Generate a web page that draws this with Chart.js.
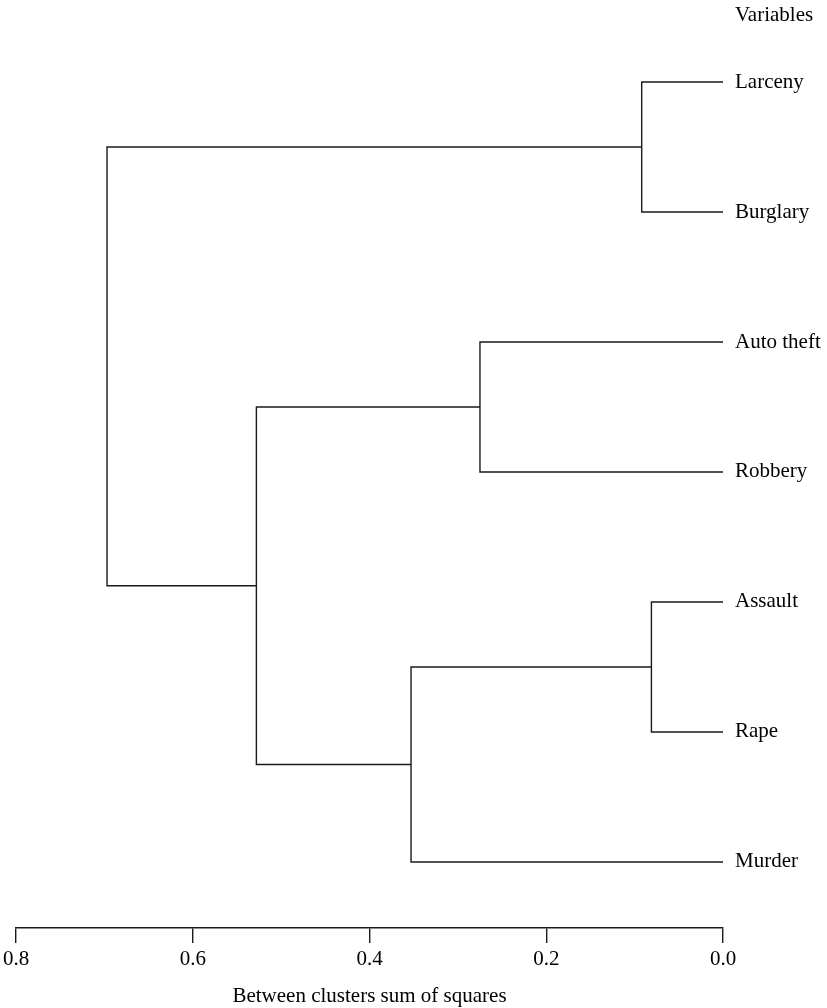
<!DOCTYPE html>
<html>
<head>
<meta charset="utf-8">
<script src="https://cdn.jsdelivr.net/npm/chart.js@4.4.1/dist/chart.umd.min.js"></script>
<style>
  html, body { margin: 0; padding: 0; background: #ffffff; }
  #wrap { width: 827px; height: 1008px; position: relative; }
</style>
</head>
<body>
<div id="wrap"><canvas id="c" width="827" height="1008"></canvas></div>
<script>
// Leaves, top to bottom
const leafNames = ['Larceny', 'Burglary', 'Auto theft', 'Robbery', 'Assault', 'Rape', 'Murder'];
// hclust-style merge table (negative = leaf index+1, positive = earlier merge step)
const mergeA = [-5, -1, -3, 1, 3, 2];
const mergeB = [-6, -2, -4, -7, 4, 5];
const mergeHeight = [0.081, 0.092, 0.275, 0.353, 0.528, 0.697];
// Axis ticks
const xTicks = [0.0, 0.2, 0.4, 0.6, 0.8];
const headerLabel = 'Variables';
const headerPos = -0.515;
const xTitle = 'Between clusters sum of squares';

// Build link polylines from merge table
const nodeY = [];
const nodeH = [];
function childInfo(ref) {
  if (ref < 0) return { y: -ref - 1, h: 0 };
  return { y: nodeY[ref - 1], h: nodeH[ref - 1] };
}
const datasets = [];
for (let i = 0; i < mergeA.length; i++) {
  const a = childInfo(mergeA[i]);
  const b = childInfo(mergeB[i]);
  const h = mergeHeight[i];
  nodeY.push((a.y + b.y) / 2);
  nodeH.push(h);
  datasets.push({
    data: [{ x: a.h, y: a.y }, { x: h, y: a.y }, { x: h, y: b.y }, { x: b.h, y: b.y }],
    showLine: true,
    borderColor: '#1a1a1a',
    borderWidth: 1.4,
    pointRadius: 0,
    tension: 0,
    fill: false
  });
}

Chart.defaults.font.family = "'Liberation Serif', 'Times New Roman', serif";
Chart.defaults.font.size = 21;
Chart.defaults.color = '#000';

new Chart(document.getElementById('c'), {
  type: 'scatter',
  data: { datasets },
  options: {
    responsive: false,
    animation: false,
    layout: { padding: { left: 16, top: 4, right: 0, bottom: 0 } },
    plugins: { legend: { display: false }, tooltip: { enabled: false } },
    scales: {
      x: {
        type: 'linear',
        reverse: true,
        min: 0,
        max: 0.8,
        afterBuildTicks: (s) => { s.ticks = xTicks.map(v => ({ value: v })); },
        afterFit: (s) => { s.height = 80; },
        ticks: {
          callback: (v) => Number(v).toFixed(1),
          padding: 3.5,
          maxRotation: 0,
          color: '#000'
        },
        grid: { drawOnChartArea: false, drawTicks: true, tickLength: 15, color: '#1a1a1a', lineWidth: 1.4 },
        border: { display: true, color: '#1a1a1a', width: 1.4 },
        title: { display: true, text: xTitle, color: '#000', padding: { top: 13, bottom: -1.5 } }
      },
      y: {
        type: 'linear',
        position: 'right',
        reverse: true,
        min: -0.6,
        max: 6.508,
        afterBuildTicks: (s) => {
          s.ticks = [{ value: headerPos }].concat(leafNames.map((n, i) => ({ value: i })));
        },
        afterFit: (s) => { s.width = 104; s.paddingTop = 0; s.paddingBottom = 0; },
        ticks: {
          autoSkip: false,
          padding: 12,
          color: '#000',
          callback: (v) => (v < 0 ? headerLabel : leafNames[Math.round(v)])
        },
        grid: { display: false, drawTicks: false },
        border: { display: false }
      }
    }
  }
});
</script>
</body>
</html>
